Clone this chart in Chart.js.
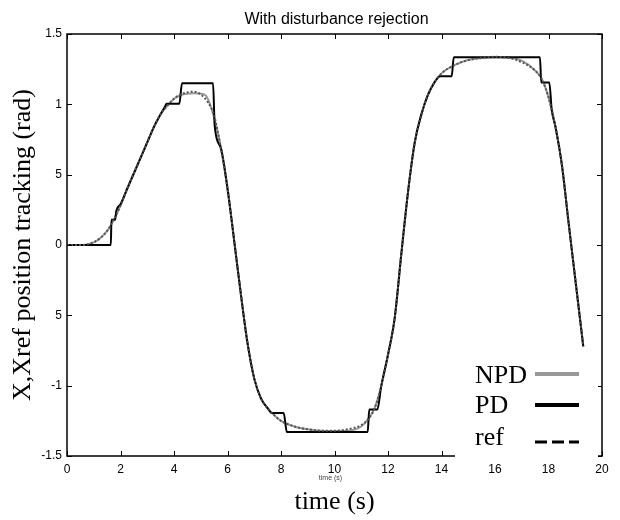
<!DOCTYPE html>
<html>
<head>
<meta charset="utf-8">
<script src="https://cdn.jsdelivr.net/npm/chart.js@4/dist/chart.umd.min.js"></script>
<style>
  html, body { margin: 0; padding: 0; background: #fff; }
  #wrap { position: relative; width: 620px; height: 520px; }
</style>
</head>
<body>
<div id="wrap"><canvas id="trackingChart" width="620" height="520"></canvas></div>
<script>
const chartTitle = 'With disturbance rejection';
const xTitle = 'time (s)';
const yTitle = 'X,Xref position tracking (rad)';
const seriesNames = ['NPD', 'PD', 'ref'];

const xTicks = [0, 2, 4, 6, 8, 10, 12, 14, 16, 18, 20];
const yTicks = [-1.5, -1, -0.5, 0, 0.5, 1, 1.5];
const yTickLabels = ['-1.5', '-1', '5', '0', '5', '1', '1.5'];

// reference trajectory
const refTime = [0, 0.5, 0.75, 1, 1.25, 1.5, 1.75, 2, 2.25, 2.5, 2.75, 3, 3.25, 3.5, 3.75, 4, 4.25, 4.5, 4.75, 5,
  5.25, 5.5, 5.75, 6, 6.25, 6.5, 6.75, 7, 7.25, 7.5, 7.75, 8, 8.5, 9, 9.5, 10, 10.5, 11, 11.25, 11.5,
  11.75, 12, 12.25, 12.5, 12.75, 13, 13.25, 13.5, 13.75, 14, 14.5, 15, 15.5, 16, 16.5, 17, 17.5, 17.75, 18, 18.25,
  18.5, 18.75, 19, 19.3];
const refPos = [0, 0, 0.005, 0.02, 0.05, 0.1, 0.18, 0.28, 0.4, 0.51, 0.62, 0.73, 0.84, 0.93, 0.99, 1.04, 1.07, 1.085, 1.09, 1.07,
  1.02, 0.92, 0.69, 0.4, 0.03, -0.35, -0.7, -0.95, -1.09, -1.16, -1.21, -1.25, -1.29, -1.31, -1.32, -1.32, -1.31, -1.28, -1.24, -1.16,
  -1, -0.78, -0.52, -0.06, 0.38, 0.73, 0.93, 1.07, 1.16, 1.22, 1.28, 1.315, 1.33, 1.338, 1.33, 1.3, 1.24, 1.18, 1.05, 0.85,
  0.57, 0.16, -0.24, -0.72];

// nonlinear PD response
const npdTime = [0, 0.5, 0.75, 1, 1.25, 1.5, 1.75, 2, 2.25, 2.5, 2.75, 3, 3.25, 3.5, 3.75, 4, 4.25, 4.5, 4.75, 5,
  5.2, 5.4, 5.75, 6, 6.25, 6.5, 6.75, 7, 7.25, 7.5, 7.75, 8, 8.5, 9, 9.5, 10, 10.5, 11, 11.25, 11.5,
  11.75, 12, 12.25, 12.5, 12.75, 13, 13.25, 13.5, 13.75, 14, 14.5, 15, 15.5, 16, 16.5, 17, 17.5, 17.75, 18, 18.25,
  18.5, 18.75, 19, 19.3];
const npdPos = [0, 0, 0.004, 0.018, 0.05, 0.1, 0.18, 0.28, 0.4, 0.51, 0.62, 0.73, 0.84, 0.93, 0.99, 1.04, 1.065, 1.075, 1.078, 1.076,
  1.06, 0.97, 0.7, 0.41, 0.03, -0.35, -0.7, -0.95, -1.09, -1.16, -1.21, -1.25, -1.29, -1.31, -1.32, -1.322, -1.32, -1.29, -1.24, -1.16,
  -1, -0.78, -0.52, -0.06, 0.38, 0.73, 0.93, 1.07, 1.16, 1.22, 1.28, 1.315, 1.33, 1.335, 1.333, 1.31, 1.24, 1.18, 1.05, 0.85,
  0.57, 0.16, -0.24, -0.72];

// linear PD response
const pdTime = [0, 1.64, 1.66, 1.8, 1.84, 2, 2.25, 2.5, 2.75, 3, 3.25, 3.5, 3.68, 3.72, 4.2, 4.3, 5.46, 5.52, 5.75, 6,
  6.25, 6.5, 6.75, 7, 7.25, 7.5, 7.66, 8.1, 8.22, 11.24, 11.3, 11.6, 11.75, 12, 12.25, 12.5, 12.75, 13, 13.25, 13.5,
  13.75, 13.95, 14.38, 14.46, 17.68, 17.73, 18.03, 18.12, 18.25, 18.5, 18.75, 19, 19.3];
const pdPos = [0, 0, 0.18, 0.18, 0.24, 0.29, 0.4, 0.51, 0.62, 0.73, 0.84, 0.93, 0.99, 1.005, 1.005, 1.15, 1.15, 0.85, 0.69, 0.4,
  0.03, -0.35, -0.7, -0.95, -1.09, -1.16, -1.195, -1.195, -1.33, -1.33, -1.17, -1.17, -1, -0.78, -0.52, -0.06, 0.38, 0.73, 0.93, 1.07,
  1.16, 1.2, 1.2, 1.335, 1.335, 1.155, 1.155, 0.96, 0.85, 0.57, 0.16, -0.24, -0.72];

function toPoints(ts, vs) {
  return ts.map((t, i) => ({ x: t, y: vs[i] }));
}

const serif = "'Liberation Serif', 'Times New Roman', serif";
const sans = "'Liberation Sans', Arial, sans-serif";

const framePlugin = {
  id: 'frame',
  afterDatasetsDraw(chart) {
    const { ctx, chartArea: a, scales: { x, y } } = chart;
    ctx.save();
    // axes box with inward ticks
    ctx.strokeStyle = '#000';
    ctx.lineWidth = 1.5;
    ctx.strokeRect(a.left, a.top, a.right - a.left, a.bottom - a.top);
    ctx.lineWidth = 1;
    ctx.beginPath();
    xTicks.forEach(v => {
      const px = Math.round(x.getPixelForValue(v)) + 0.5;
      ctx.moveTo(px, a.top); ctx.lineTo(px, a.top + 5);
      ctx.moveTo(px, a.bottom); ctx.lineTo(px, a.bottom - 5);
    });
    yTicks.forEach(v => {
      const py = Math.round(y.getPixelForValue(v)) + 0.5;
      ctx.moveTo(a.left, py); ctx.lineTo(a.left + 5, py);
      ctx.moveTo(a.right, py); ctx.lineTo(a.right - 5, py);
    });
    ctx.stroke();

    // small leftover axis label under the ticks
    ctx.fillStyle = '#444';
    ctx.font = '7px ' + sans;
    ctx.textAlign = 'center';
    ctx.textBaseline = 'middle';
    ctx.fillText(xTitle, (a.left + a.right) / 2 - 4, a.bottom + 22);

    // legend box
    const bx = a.right - 147, by = a.bottom - 109;
    ctx.fillStyle = '#fff';
    ctx.fillRect(bx, by, 143, 112);
    ctx.font = '26px ' + serif;
    ctx.textAlign = 'left';
    ctx.textBaseline = 'alphabetic';
    const rows = [
      { ds: chart.data.datasets[0], base: by + 36, lineY: by + 27, w: 4, dash: [] },
      { ds: chart.data.datasets[1], base: by + 66, lineY: by + 58, w: 4, dash: [] },
      { ds: chart.data.datasets[2], base: by + 98, lineY: by + 95, w: 3, dash: [12, 5] }
    ];
    rows.forEach(r => {
      ctx.fillStyle = '#000';
      ctx.fillText(r.ds.label, bx + 20, r.base);
      ctx.strokeStyle = r.ds.label === 'ref' ? '#000' : r.ds.borderColor;
      ctx.lineWidth = r.w;
      ctx.setLineDash(r.dash);
      ctx.beginPath();
      ctx.moveTo(bx + 80, r.lineY);
      ctx.lineTo(bx + 124, r.lineY);
      ctx.stroke();
    });
    ctx.setLineDash([]);

    // title
    ctx.fillStyle = '#000';
    ctx.font = '16px ' + sans;
    ctx.textAlign = 'center';
    ctx.textBaseline = 'middle';
    ctx.fillText(chartTitle, (a.left + a.right) / 2 + 2, 20);
    ctx.restore();
  }
};

const ctx = document.getElementById('trackingChart').getContext('2d');
new Chart(ctx, {
  type: 'line',
  data: {
    datasets: [
      {
        label: seriesNames[0],
        data: toPoints(npdTime, npdPos),
        borderColor: '#999999',
        borderWidth: 2,
        pointRadius: 0,
        cubicInterpolationMode: 'monotone',
        order: 2
      },
      {
        label: seriesNames[1],
        data: toPoints(pdTime, pdPos),
        borderColor: '#000000',
        borderWidth: 2,
        pointRadius: 0,
        cubicInterpolationMode: 'monotone',
        order: 1
      },
      {
        label: seriesNames[2],
        data: toPoints(refTime, refPos),
        borderColor: '#555555',
        borderWidth: 2,
        borderDash: [2, 2],
        pointRadius: 0,
        cubicInterpolationMode: 'monotone',
        order: 0
      }
    ]
  },
  options: {
    responsive: false,
    animation: false,
    layout: { padding: { top: 34, right: 18, left: 0, bottom: 0 } },
    plugins: {
      legend: { display: false },
      title: { display: false },
      tooltip: { enabled: false }
    },
    scales: {
      x: {
        type: 'linear',
        min: 0,
        max: 20,
        afterBuildTicks: s => { s.ticks = xTicks.map(v => ({ value: v })); },
        afterFit: s => { s.height = 64; },
        grid: { display: false, drawTicks: false },
        border: { display: false },
        ticks: { color: '#000', padding: 6, maxRotation: 0, font: { family: sans, size: 12 } },
        title: { display: true, text: xTitle, color: '#000', padding: { top: 0, bottom: 2 }, font: { family: serif, size: 26 } }
      },
      y: {
        type: 'linear',
        min: -1.5,
        max: 1.5,
        afterBuildTicks: s => { s.ticks = yTicks.map(v => ({ value: v })); },
        afterFit: s => { s.width = 67; },
        grid: { display: false, drawTicks: false },
        border: { display: false },
        ticks: {
          color: '#000',
          padding: 5,
          font: { family: sans, size: 12 },
          callback: (v, i) => yTickLabels[i]
        },
        title: { display: true, text: yTitle, color: '#000', padding: { top: 8, bottom: 0 }, font: { family: serif, size: 26 } }
      }
    }
  },
  plugins: [framePlugin]
});
</script>
</body>
</html>
